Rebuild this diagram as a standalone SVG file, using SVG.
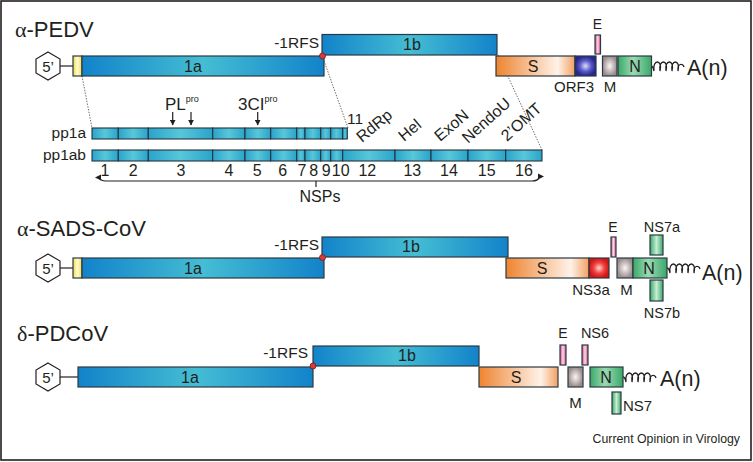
<svg xmlns="http://www.w3.org/2000/svg" width="753" height="462" viewBox="0 0 753 462">
<defs>
<linearGradient id="gBlue" x1="0" x2="1" y1="0" y2="0"><stop offset="0" stop-color="#1283ca"/><stop offset="0.5" stop-color="#45bdd3"/><stop offset="1" stop-color="#1283ca"/></linearGradient>
<linearGradient id="gSeg" x1="0" x2="1" y1="0" y2="0"><stop offset="0" stop-color="#2aa3cb"/><stop offset="0.5" stop-color="#58c7d9"/><stop offset="1" stop-color="#2aa3cb"/></linearGradient>
<linearGradient id="gY" x1="0" x2="1"><stop offset="0" stop-color="#f2dc4c"/><stop offset="0.5" stop-color="#fffbd2"/><stop offset="1" stop-color="#f2dc4c"/></linearGradient>
<linearGradient id="gS" x1="0" x2="1"><stop offset="0" stop-color="#ee8430"/><stop offset="0.78" stop-color="#fff2e8"/><stop offset="1" stop-color="#f2a062"/></linearGradient>
<radialGradient id="gORF"><stop offset="0" stop-color="#dcdcff"/><stop offset="0.55" stop-color="#5a5ac6"/><stop offset="1" stop-color="#26268e"/></radialGradient>
<radialGradient id="gR"><stop offset="0" stop-color="#ffd6cc"/><stop offset="0.55" stop-color="#f04040"/><stop offset="1" stop-color="#d01616"/></radialGradient>
<linearGradient id="gE" x1="0" x2="1"><stop offset="0" stop-color="#d44c8a"/><stop offset="0.5" stop-color="#fbd8e8"/><stop offset="1" stop-color="#d44c8a"/></linearGradient>
<radialGradient id="gM"><stop offset="0" stop-color="#faf6f6"/><stop offset="1" stop-color="#9c8c8c"/></radialGradient>
<linearGradient id="gN" x1="0" x2="1"><stop offset="0" stop-color="#3aa868"/><stop offset="0.45" stop-color="#9bdab3"/><stop offset="1" stop-color="#3aa868"/></linearGradient>
<linearGradient id="gN7" x1="0" x2="1"><stop offset="0" stop-color="#3aa868"/><stop offset="0.5" stop-color="#c6eed5"/><stop offset="1" stop-color="#3aa868"/></linearGradient>
<marker id="ah" viewBox="0 0 10 10" refX="9" refY="5" markerWidth="5" markerHeight="5" orient="auto-start-reverse"><path d="M0,0 L10,5 L0,10 z" fill="#231f20"/></marker>
<style>
.box{stroke:#2b3a42;stroke-width:1.2}
.seg{fill:url(#gSeg);stroke:#23343c;stroke-width:1.1}
.t{font-family:"Liberation Sans",Arial,Helvetica,sans-serif;fill:#231f20}
.gr{font-family:"Liberation Serif","DejaVu Serif",serif}
.dot{stroke:#444;stroke-width:0.8;stroke-dasharray:1.4,1.4;fill:none}
.ln{stroke:#231f20;stroke-width:1.2;fill:none}
.sq{fill:none;stroke:#231f20;stroke-width:1.3}
.hex{fill:#fff;stroke:#231f20;stroke-width:1.2}
.rfs{fill:#d83a3a;stroke:#7a1a1a;stroke-width:0.8}
.head{fill:#231f20}
</style>
</defs>
<rect x="1" y="1" width="750" height="459" fill="#fff" stroke="#231f20" stroke-width="1.6"/>

<!-- Connectors -->
<g id="connectors">
<line class="ln" x1="60" y1="66" x2="73" y2="66"/>
<line class="ln" x1="60" y1="268" x2="73" y2="268"/>
<line class="ln" x1="60" y1="377" x2="78" y2="377"/>
<line class="dot" x1="82" y1="76" x2="92" y2="128"/>
<line class="dot" x1="323" y1="58" x2="348" y2="128"/>
<line class="dot" x1="498" y1="55" x2="542" y2="150"/>
<path class="sq" d="M651,66 c2,0 3,5 3,5 c-2,-12 9,-12 6,0 c-2,-12 9,-12 6,0 c-2,-12 9,-12 6,0 c-2,-12 9,-12 6,0 c-1,-8 5,-8 6,-4"/>
<path class="sq" d="M667,268 c2,0 3,5 3,5 c-2,-12 9,-12 6,0 c-2,-12 9,-12 6,0 c-2,-12 9,-12 6,0 c-2,-12 9,-12 6,0 c-1,-8 5,-8 6,-4"/>
<path class="sq" d="M623,377 c2,0 3,5 3,5 c-2,-12 9,-12 6,0 c-2,-12 9,-12 6,0 c-2,-12 9,-12 6,0 c-2,-12 9,-12 6,0 c-1,-8 5,-8 6,-4"/>
<line class="ln" x1="172.7" y1="112" x2="172.7" y2="125" stroke-width="1.6" marker-end="url(#ah)"/>
<line class="ln" x1="191" y1="112" x2="191" y2="125" stroke-width="1.6" marker-end="url(#ah)"/>
<line class="ln" x1="257.7" y1="112" x2="257.7" y2="125" stroke-width="1.6" marker-end="url(#ah)"/>
<path class="ln" stroke-width="2.4" d="M100,177.5 Q100,181 106,181 L532,181 Q538,181 539,177.5"/>
<polygon class="head" points="95,177.5 101,174.5 101,180.5"/>
<polygon class="head" points="544,176.5 538,173.5 538,179.5"/>
<line class="ln" x1="316" y1="181" x2="316" y2="187" stroke-width="1"/>
</g>

<!-- alpha-PEDV -->
<text class="t" x="15" y="37" font-size="22"><tspan class="gr">α</tspan>-PEDV</text>
<g id="pedv-5cap">
<polygon class="hex" points="48,52 60,59 60,73 48,80 36,73 36,59"/>
<text class="t" x="48" y="72" font-size="15" text-anchor="middle">5’</text>
</g>
<g id="pedv-utr"><rect class="box" x="73" y="56" width="9" height="20" fill="url(#gY)"/></g>
<g id="pedv-1a"><rect class="box" x="82" y="56" width="242" height="20" fill="url(#gBlue)"/><text class="t" x="193" y="72" font-size="16" text-anchor="middle">1a</text></g>
<g id="pedv-1b"><rect class="box" x="322" y="34.5" width="175" height="20.5" fill="url(#gBlue)"/><text class="t" x="412" y="50" font-size="16" text-anchor="middle">1b</text></g>
<g id="pedv-rfs"><circle class="rfs" cx="322.5" cy="56" r="3"/><text class="t" x="319" y="48" font-size="15.5" text-anchor="end">-1RFS</text></g>
<g id="pedv-S"><rect class="box" x="496" y="56" width="79" height="20" fill="url(#gS)"/><text class="t" x="533" y="72" font-size="16" text-anchor="middle">S</text></g>
<g id="pedv-ORF3"><rect class="box" x="575" y="56" width="21" height="20" fill="url(#gORF)"/><text class="t" x="574" y="92" font-size="15" text-anchor="middle">ORF3</text></g>
<g id="pedv-E"><rect class="box" x="595" y="35" width="5.5" height="19" fill="url(#gE)"/><text class="t" x="597.5" y="29" font-size="14" text-anchor="middle">E</text></g>
<g id="pedv-M"><rect class="box" x="602.5" y="56" width="14.5" height="20" fill="url(#gM)"/><text class="t" x="610" y="92" font-size="15" text-anchor="middle">M</text></g>
<g id="pedv-N"><rect class="box" x="618" y="56" width="33.5" height="20" fill="url(#gN)"/><text class="t" x="635" y="72" font-size="16" text-anchor="middle">N</text></g>
<g id="pedv-polyA"><text class="t" x="687" y="75" font-size="21.5">A(n)</text></g>

<!-- pp1a / pp1ab -->
<g id="pp1a">
<text class="t" x="86" y="138" font-size="15.5" text-anchor="end">pp1a</text>
<rect class="seg" x="92" y="128" width="26.3" height="11"/>
<rect class="seg" x="118.3" y="128" width="30" height="11"/>
<rect class="seg" x="148.3" y="128" width="64.4" height="11"/>
<rect class="seg" x="212.7" y="128" width="32.3" height="11"/>
<rect class="seg" x="245" y="128" width="25.7" height="11"/>
<rect class="seg" x="270.7" y="128" width="26" height="11"/>
<rect class="seg" x="296.7" y="128" width="8.3" height="11"/>
<rect class="seg" x="305" y="128" width="15.7" height="11"/>
<rect class="seg" x="320.7" y="128" width="10" height="11"/>
<rect class="seg" x="330.7" y="128" width="12" height="11"/>
<rect class="seg" x="342.7" y="128" width="4.6" height="11"/>
<text class="t" x="347" y="124" font-size="15.5">11</text>
</g>
<g id="pp1ab">
<text class="t" x="86" y="160" font-size="15.5" text-anchor="end">pp1ab</text>
<rect class="seg" x="92" y="150" width="26.3" height="11"/>
<rect class="seg" x="118.3" y="150" width="30" height="11"/>
<rect class="seg" x="148.3" y="150" width="64.4" height="11"/>
<rect class="seg" x="212.7" y="150" width="32.3" height="11"/>
<rect class="seg" x="245" y="150" width="25.7" height="11"/>
<rect class="seg" x="270.7" y="150" width="26" height="11"/>
<rect class="seg" x="296.7" y="150" width="8.3" height="11"/>
<rect class="seg" x="305" y="150" width="15.7" height="11"/>
<rect class="seg" x="320.7" y="150" width="10" height="11"/>
<rect class="seg" x="330.7" y="150" width="12" height="11"/>
<rect class="seg" x="342.7" y="150" width="52.3" height="11"/>
<rect class="seg" x="395" y="150" width="36" height="11"/>
<rect class="seg" x="431" y="150" width="37" height="11"/>
<rect class="seg" x="468" y="150" width="37.7" height="11"/>
<rect class="seg" x="505.7" y="150" width="36.3" height="11"/>
</g>
<g id="nsp-labels" class="t" font-size="16" text-anchor="middle">
<text x="105" y="176">1</text><text x="133.3" y="176">2</text><text x="181" y="176">3</text><text x="229" y="176">4</text><text x="257.3" y="176">5</text><text x="282.7" y="176">6</text><text x="302" y="176">7</text><text x="313.7" y="176">8</text><text x="326.3" y="176">9</text><text x="340.7" y="176">10</text><text x="367.3" y="176">12</text><text x="412.3" y="176">13</text><text x="449" y="176">14</text><text x="486.7" y="176">15</text><text x="524" y="176">16</text>
</g>
<text class="t" x="320" y="202" font-size="16" text-anchor="middle">NSPs</text>
<g id="protease-labels" class="t">
<text x="165" y="110" font-size="17">PL<tspan font-size="9" dy="-8">pro</tspan></text>
<text x="238" y="110" font-size="17">3CI<tspan font-size="9" dy="-8">pro</tspan></text>
</g>
<g id="domain-labels" class="t" font-size="16">
<text transform="translate(362,143) rotate(-40)">RdRp</text>
<text transform="translate(404,142) rotate(-40)">Hel</text>
<text transform="translate(440,142) rotate(-40)">ExoN</text>
<text transform="translate(468,144) rotate(-42)">NendoU</text>
<text transform="translate(507,142) rotate(-42)">2’OMT</text>
</g>

<!-- alpha-SADS-CoV -->
<text class="t" x="17" y="236" font-size="22"><tspan class="gr">α</tspan>-SADS-CoV</text>
<g id="sads-5cap">
<polygon class="hex" points="48,254 60,261 60,275 48,282 36,275 36,261"/>
<text class="t" x="48" y="274" font-size="15" text-anchor="middle">5’</text>
</g>
<g id="sads-utr"><rect class="box" x="73" y="258" width="9" height="20" fill="url(#gY)"/></g>
<g id="sads-1a"><rect class="box" x="82" y="258" width="242" height="20" fill="url(#gBlue)"/><text class="t" x="193" y="274" font-size="16" text-anchor="middle">1a</text></g>
<g id="sads-1b"><rect class="box" x="322" y="237" width="186" height="20" fill="url(#gBlue)"/><text class="t" x="411" y="252" font-size="16" text-anchor="middle">1b</text></g>
<g id="sads-rfs"><circle class="rfs" cx="322.5" cy="257.5" r="3"/><text class="t" x="319" y="250" font-size="15.5" text-anchor="end">-1RFS</text></g>
<g id="sads-S"><rect class="box" x="506" y="258" width="83" height="20" fill="url(#gS)"/><text class="t" x="542" y="274" font-size="16" text-anchor="middle">S</text></g>
<g id="sads-NS3a"><rect class="box" x="589" y="258" width="20" height="20" fill="url(#gR)"/><text class="t" x="591" y="295" font-size="15" text-anchor="middle">NS3a</text></g>
<g id="sads-E"><rect class="box" x="611" y="237" width="5" height="20" fill="url(#gE)"/><text class="t" x="613" y="232" font-size="14" text-anchor="middle">E</text></g>
<g id="sads-M"><rect class="box" x="617" y="258" width="16" height="20" fill="url(#gM)"/><text class="t" x="626.5" y="295" font-size="15" text-anchor="middle">M</text></g>
<g id="sads-N"><rect class="box" x="633" y="258" width="34" height="20" fill="url(#gN)"/><text class="t" x="649" y="274" font-size="16" text-anchor="middle">N</text></g>
<g id="sads-NS7a"><rect class="box" x="650" y="235" width="13" height="20" fill="url(#gN7)"/><text class="t" x="662" y="232" font-size="14.5" text-anchor="middle">NS7a</text></g>
<g id="sads-NS7b"><rect class="box" x="650" y="280" width="13" height="21" fill="url(#gN7)"/><text class="t" x="662" y="318" font-size="14.5" text-anchor="middle">NS7b</text></g>
<g id="sads-polyA"><text class="t" x="702" y="280" font-size="21.5">A(n)</text></g>

<!-- delta-PDCoV -->
<text class="t" x="17" y="341" font-size="22"><tspan class="gr">δ</tspan>-PDCoV</text>
<g id="pdcov-5cap">
<polygon class="hex" points="48,363 60,370 60,384 48,391 36,384 36,370"/>
<text class="t" x="48" y="383" font-size="15" text-anchor="middle">5’</text>
</g>
<g id="pdcov-1a"><rect class="box" x="78" y="367" width="235" height="20" fill="url(#gBlue)"/><text class="t" x="190" y="383" font-size="16" text-anchor="middle">1a</text></g>
<g id="pdcov-1b"><rect class="box" x="313" y="346" width="166" height="20" fill="url(#gBlue)"/><text class="t" x="407" y="361" font-size="16" text-anchor="middle">1b</text></g>
<g id="pdcov-rfs"><circle class="rfs" cx="313" cy="366" r="3"/><text class="t" x="308" y="358" font-size="15.5" text-anchor="end">-1RFS</text></g>
<g id="pdcov-S"><rect class="box" x="479" y="367" width="79" height="20" fill="url(#gS)"/><text class="t" x="516" y="383" font-size="16" text-anchor="middle">S</text></g>
<g id="pdcov-E"><rect class="box" x="560" y="345" width="6" height="20" fill="url(#gE)"/><text class="t" x="563" y="338" font-size="14" text-anchor="middle">E</text></g>
<g id="pdcov-NS6"><rect class="box" x="582" y="345" width="6" height="20" fill="url(#gE)"/><text class="t" x="595" y="338" font-size="14.5" text-anchor="middle">NS6</text></g>
<g id="pdcov-M"><rect class="box" x="568" y="367" width="15" height="20" fill="url(#gM)"/><text class="t" x="575.5" y="408" font-size="15" text-anchor="middle">M</text></g>
<g id="pdcov-N"><rect class="box" x="590" y="367" width="33" height="20" fill="url(#gN)"/><text class="t" x="606" y="383" font-size="16" text-anchor="middle">N</text></g>
<g id="pdcov-NS7"><rect class="box" x="612" y="392" width="9" height="22" fill="url(#gN7)"/><text class="t" x="623" y="411" font-size="15">NS7</text></g>
<g id="pdcov-polyA"><text class="t" x="660" y="386" font-size="21.5">A(n)</text></g>

<text class="t" x="740" y="443" font-size="12.3" text-anchor="end">Current Opinion in Virology</text>
</svg>
